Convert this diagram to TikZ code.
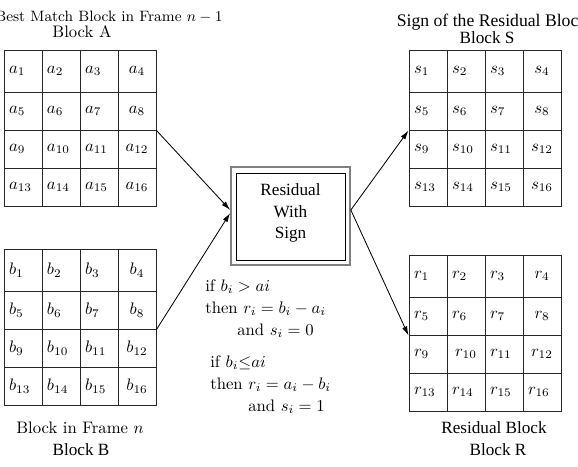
\documentclass[tikz,border=0pt]{standalone}
\usepackage{fontspec}
\newfontfamily\tms{Liberation Serif}
\usetikzlibrary{arrows.meta}
\begin{document}
\begin{tikzpicture}[x=0.6pt,y=-0.6pt,
  cell/.style={draw=black!85, line width=0.6pt, inner xsep=3pt, inner ysep=0pt,
    text width=16.8pt, minimum width=22.8pt, font=\fontsize{10}{12}\selectfont},
  cmtxt/.style={inner sep=0pt, font=\fontsize{10}{12}\selectfont},
  tmtxt/.style={inner sep=0pt, font=\tms\fontsize{10.3}{12}\selectfont},
  arr/.style={-{Latex[length=5.5pt,width=3.2pt]}, line width=0.5pt},
]
\useasboundingbox (0,0) rectangle (578,466);
% grids
\foreach \gname/\x/\ya/\yb/\yc/\yd/\ye in {a/4/50/92/130/168/206, b/4/249/291/329/367/405, s/409/50/92/130/168/206, r/409/255/297/335/373/411}{
  \foreach \rr/\ta/\tb in {1/\ya/\yb, 2/\yb/\yc, 3/\yc/\yd, 4/\yd/\ye}{
    \foreach \cc in {1,...,4}{
      \pgfmathtruncatemacro\idx{(\rr-1)*4+\cc}
      \pgfmathsetmacro\hh{(\tb-\ta)*0.6}
      \def\al{left}\ifnum\cc=4 \def\al{center}\fi
      \if\gname r\ifnum\idx=10 \def\al{center}\fi\ifnum\idx=16 \def\al{left}\fi\fi
      \node[cell, align=\al, minimum height=\hh pt] (\gname\idx) at ({\x+38*\cc-19},{(\ta+\tb)/2}) {$\gname_{\idx}$};
    }
  }
}
% central box
\node[draw=black!50, line width=1pt, minimum width=71.4pt, minimum height=58.8pt, inner sep=0pt] (box) at (290.5,216) {};
\node[draw=black, line width=0.55pt, minimum width=65.4pt, minimum height=52.2pt, inner sep=0pt] (boxin) at (290.5,216.5) {};
\node[inner sep=0pt, align=center, font=\tms\fontsize{10.3}{12.9}\selectfont] (boxtxt) at (290.5,213) {Residual\\With\\Sign};
% arrows
\draw[arr] (a8.south east) -- ([yshift=3.6pt]box.west);
\draw[arr] (b8.south east) -- ([yshift=1.8pt]box.west);
\draw[arr] ([yshift=3.6pt]box.east) -- (s5.south west);
\draw[arr] ([yshift=3.6pt]box.east) -- (r5.south west);
% titles
\node[inner sep=0pt, font=\fontsize{9}{11}\selectfont, anchor=base] (tA1) at (109,21.5) {Best Match Block in Frame $n-1$};
\node[cmtxt, anchor=base] (tA2) at (82,37.7) {Block A};
\node[inner sep=0pt, font=\tms\fontsize{10.6}{12}\selectfont, anchor=base] (tS1) at (492,26.7) {Sign of the Residual Block};
\node[tmtxt, anchor=base] (tS2) at (487,43.3) {Block S};
\node[cmtxt, anchor=base] (tB1) at (80,433) {Block in Frame $n$};
\node[tmtxt, anchor=base] (tB2) at (81,455) {Block B};
\node[tmtxt, anchor=base] (tR1) at (494,433) {Residual Block};
\node[tmtxt, anchor=base] (tR2) at (498,455) {Block R};
% conditions
\node[cmtxt, anchor=base west] (c1) at (205,291) {if $b_i > ai$};
\node[cmtxt, anchor=base west] (c2) at (205,313) {then $r_i = b_i - a_i$};
\node[cmtxt, anchor=base west] (c3) at (237,335) {and $s_i = 0$};
\node[cmtxt, anchor=base west] (c4) at (210,367) {if $b_i{\leq}ai$};
\node[cmtxt, anchor=base west] (c5) at (210,389) {then $r_i = a_i - b_i$};
\node[cmtxt, anchor=base west] (c6) at (248,411) {and $s_i = 1$};
\end{tikzpicture}
\end{document}
